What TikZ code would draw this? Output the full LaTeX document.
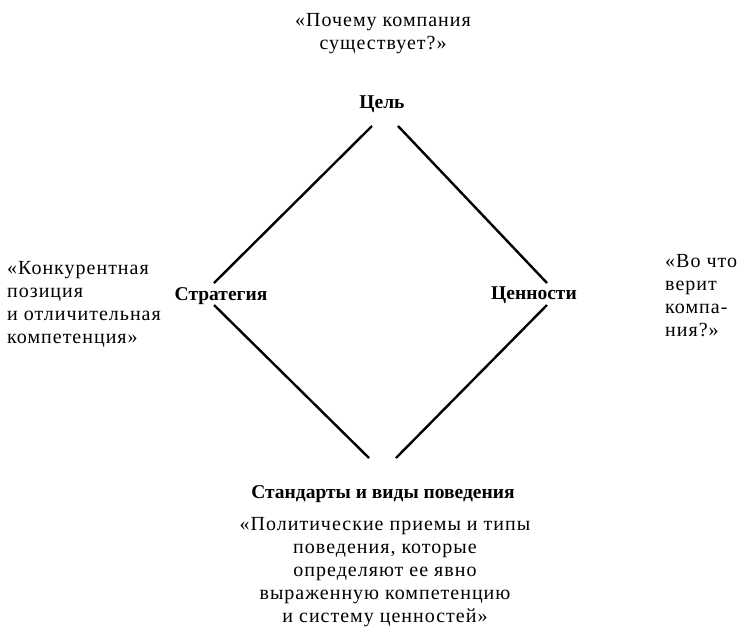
\documentclass[tikz,border=0pt]{standalone}
\usepackage{fontspec}
\setmainfont{Liberation Serif}
\newfontfamily\qfont[LetterSpace=5]{Liberation Serif}
\begin{document}
\begin{tikzpicture}[x=1pt,y=-1pt,
  lbl/.style={font=\fontsize{19.5}{22}\selectfont\bfseries, inner sep=0pt, anchor=base},
  quote/.style={font=\fontsize{20}{23}\qfont, inner sep=0pt},
  edge/.style={line width=2.4pt}]
\useasboundingbox (0,0) rectangle (747,630);
\node[lbl] (goal) at (382,108) {Цель};
\node[lbl] (strat) at (221,300) {Стратегия};
\node[lbl] (vals) at (534,299) {Ценности};
\node[lbl] (std) at (383,498) {Стандарты и виды поведения};
\coordinate (t1) at (372,126);
\coordinate (t2) at (398,126);
\coordinate (l1) at (214,283);
\coordinate (l2) at (214,305);
\coordinate (r1) at (547,283);
\coordinate (r2) at (547,305);
\coordinate (b1) at (369,458);
\coordinate (b2) at (396,458);
\draw[edge] (t1) -- (l1);
\draw[edge] (t2) -- (r1);
\draw[edge] (l2) -- (b1);
\draw[edge] (r2) -- (b2);
\node[quote, align=center, anchor=north] (qgoal) at (383,13) {«Почему компания\\существует?»};
\node[quote, align=left, anchor=north west] (qstrat) at (7,261) {«Конкурентная\\позиция\\и отличительная\\компетенция»};
\node[quote, align=left, anchor=north west] (qvals) at (665,254) {«Во что\\верит\\компа-\\ния?»};
\node[quote, align=center, anchor=north] (qstd) at (385,517) {«Политические приемы и типы\\поведения, которые\\определяют ее явно\\выраженную компетенцию\\и систему ценностей»};
\end{tikzpicture}
\end{document}
